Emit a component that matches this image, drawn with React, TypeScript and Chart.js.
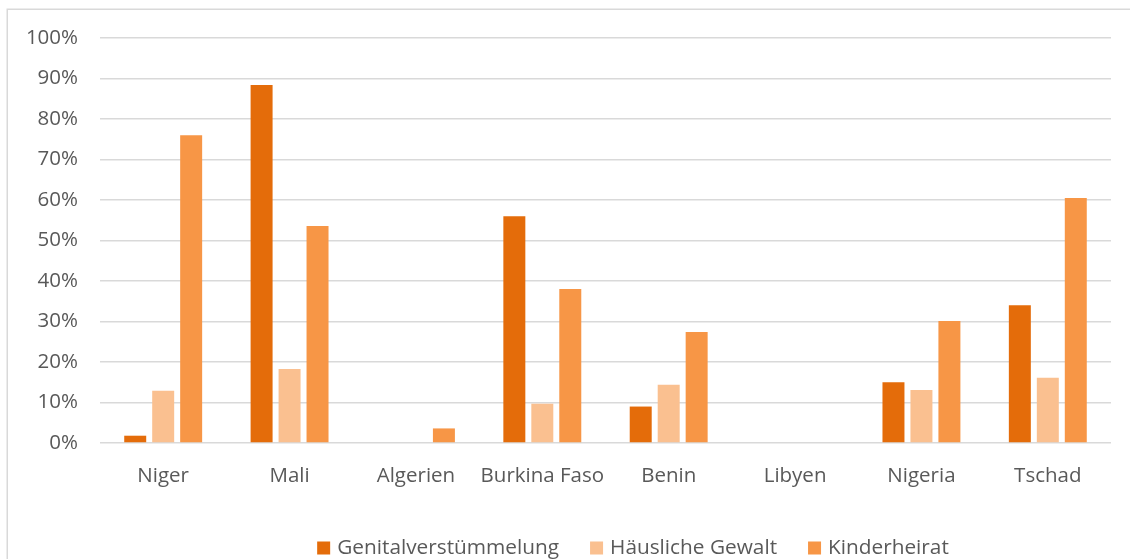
import React, { useEffect, useRef } from "react";
import { Chart, registerables } from "chart.js";

Chart.register(...registerables);

const categories = ["Niger", "Mali", "Algerien", "Burkina Faso", "Benin", "Libyen", "Nigeria", "Tschad"];
const seriesNames = ["Genitalverstümmelung", "Häusliche Gewalt", "Kinderheirat"];
const genital = [1.8, 88.4, 0, 56.0, 9.0, 0, 15.0, 34.0];
const haeuslich = [12.9, 18.3, 0, 9.7, 14.4, 0, 13.1, 16.1];
const kinderheirat = [76.0, 53.6, 3.6, 38.0, 27.4, 0, 30.1, 60.5];
const colors = ["#E46C0A", "#FAC090", "#F79646"];
const yTicks = [0, 10, 20, 30, 40, 50, 60, 70, 80, 90, 100];

const FONT = "'Open Sans', sans-serif";
const TEXT = "#595959";

const framePlugin = {
  id: "frame",
  beforeDraw(chart: any) {
    const ctx = chart.ctx;
    ctx.save();
    ctx.fillStyle = "#ffffff";
    ctx.fillRect(0, 0, chart.width, chart.height);
    ctx.strokeStyle = "#d9d9d9";
    ctx.lineWidth = 1.5;
    ctx.strokeRect(7.25, 9.25, chart.width + 50, chart.height + 50);
    ctx.restore();
  },
};

const legendPlugin = {
  id: "customLegend",
  afterDraw(chart: any) {
    const ctx = chart.ctx;
    ctx.save();
    ctx.font = `20.8px ${FONT}`;
    const box = 13;
    const gapText = 7;
    const gapItem = 31;
    const items = chart.data.datasets.map((d: any) => ({
      label: d.label,
      color: d.backgroundColor,
      w: ctx.measureText(d.label).width,
    }));
    const total =
      items.reduce((s: number, it: any) => s + box + gapText + it.w, 0) + gapItem * (items.length - 1);
    let x = 633 - total / 2;
    const cy = 548;
    ctx.textBaseline = "middle";
    ctx.textAlign = "left";
    for (const it of items) {
      ctx.fillStyle = it.color;
      ctx.fillRect(x, cy - box / 2, box, box);
      ctx.fillStyle = TEXT;
      ctx.fillText(it.label, x + box + gapText, cy);
      x += box + gapText + it.w + gapItem;
    }
    ctx.restore();
  },
};

export default function App() {
  const ref = useRef<HTMLCanvasElement | null>(null);
  useEffect(() => {
    if (!ref.current) return;
    const chart = new Chart(ref.current, {
      type: "bar",
      data: {
        labels: categories,
        datasets: [genital, haeuslich, kinderheirat].map((vals, i) => ({
          label: seriesNames[i],
          data: vals,
          backgroundColor: colors[i],
          borderWidth: 0,
          categoryPercentage: 0.664,
          barPercentage: 0.786,
        })),
      },
      options: {
        responsive: false,
        animation: false,
        devicePixelRatio: 1,
        layout: { padding: { left: 8, right: 19, top: 38, bottom: 0 } },
        plugins: {
          legend: { display: false },
          tooltip: { enabled: false },
          title: { display: false },
        },
        scales: {
          x: {
            grid: { display: false, drawTicks: false },
            border: { display: false },
            ticks: {
              color: TEXT,
              font: { family: FONT, size: 20.5 },
              padding: 21,
              maxRotation: 0,
              autoSkip: false,
            },
            afterFit: (s: any) => {
              s.height = 116;
            },
          },
          y: {
            min: 0,
            max: 100,
            afterBuildTicks: (s: any) => {
              s.ticks = yTicks.map((v) => ({ value: v }));
            },
            grid: { color: "#d9d9d9", lineWidth: 1.5, drawTicks: false },
            border: { display: false },
            ticks: {
              color: TEXT,
              font: { family: FONT, size: 20.5 },
              padding: 22,
              callback: (v: any) => `${v}%`,
            },
            afterFit: (s: any) => {
              s.width = 92;
            },
          },
        },
      },
      plugins: [framePlugin, legendPlugin],
    });
    return () => chart.destroy();
  }, []);
  return (
    <div style={{ position: "absolute", left: 0, top: 0, width: 1130, height: 559 }}>
      <canvas ref={ref} width={1130} height={559} style={{ display: "block" }} />
    </div>
  );
}
